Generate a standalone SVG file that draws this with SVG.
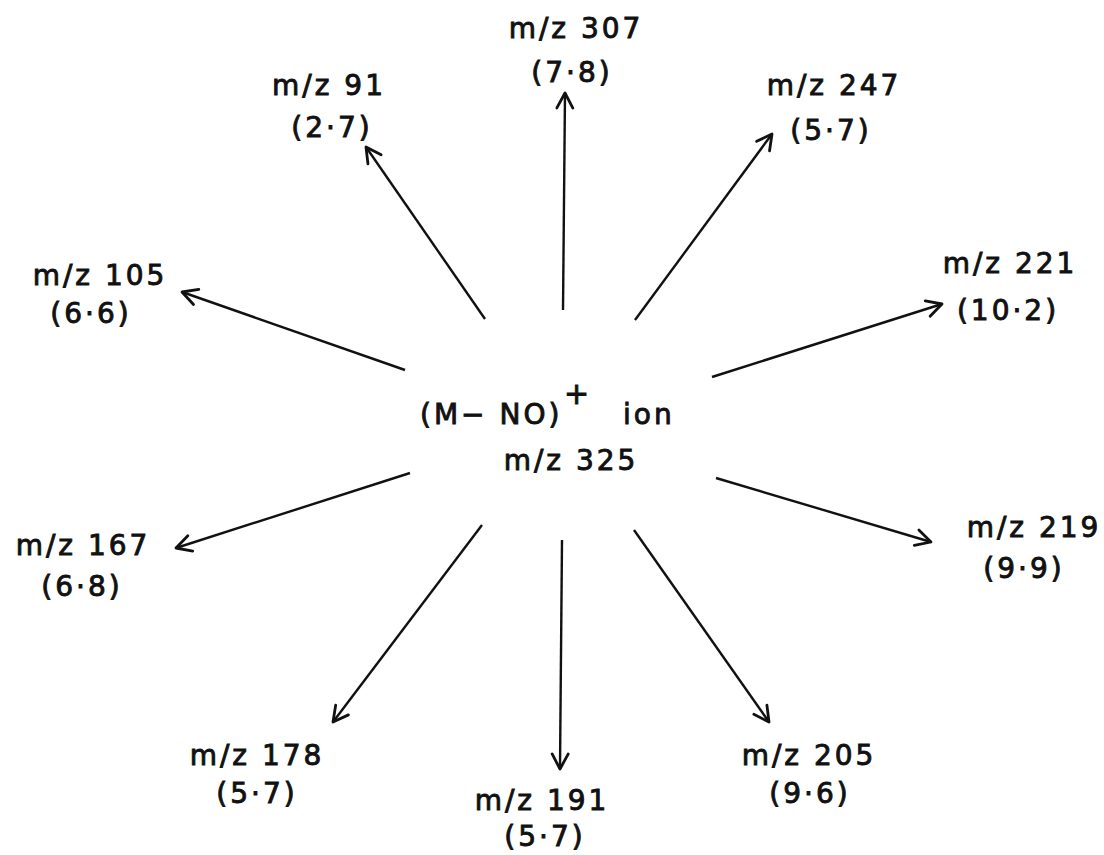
<svg xmlns="http://www.w3.org/2000/svg" width="1104" height="855" viewBox="0 0 1104 855">
<style>
text{font-family:"DejaVu Sans","Liberation Sans",sans-serif;font-size:28px;fill:#111;stroke:#111;stroke-width:0.9;letter-spacing:3px;text-anchor:middle}
.ln{stroke:#111;stroke-width:2.4;fill:none;marker-end:url(#ah)}
</style>
<defs>
<marker id="ah" markerUnits="userSpaceOnUse" markerWidth="24" markerHeight="24" viewBox="-18 -12 24 24" refX="0" refY="0" orient="auto">
<path d="M-15,-8 L0,0 L-15,8" fill="none" stroke="#111" stroke-width="2.8" stroke-linecap="round" stroke-linejoin="round"/>
</marker>
</defs>
<rect width="1104" height="855" fill="#fff"/>
<g id="connectors">
<line class="ln" x1="563" y1="310" x2="565" y2="93"/>
<line class="ln" x1="485" y1="319" x2="366" y2="147"/>
<line class="ln" x1="405" y1="370" x2="182" y2="292"/>
<line class="ln" x1="635" y1="320" x2="772" y2="134"/>
<line class="ln" x1="712" y1="377" x2="942" y2="304"/>
<line class="ln" x1="716" y1="478" x2="931" y2="542"/>
<line class="ln" x1="634" y1="530" x2="769" y2="722"/>
<line class="ln" x1="562" y1="540" x2="560" y2="769"/>
<line class="ln" x1="482" y1="525" x2="333" y2="722"/>
<line class="ln" x1="410" y1="473" x2="176" y2="548"/>
</g>
<g id="center">
<text x="420" y="424" style="text-anchor:start">(M− NO)</text>
<text x="578" y="404" style="text-anchor:middle;font-size:30px">+</text>
<text x="623" y="424" style="text-anchor:start">ion</text>
<text x="571" y="470">m/z 325</text>
</g>
<g id="n307"><text x="576" y="38">m/z 307</text><text x="572" y="82">(7·8)</text></g>
<g id="n91"><text x="329" y="95">m/z 91</text><text x="332" y="137">(2·7)</text></g>
<g id="n247"><text x="834" y="95">m/z 247</text><text x="831" y="140">(5·7)</text></g>
<g id="n105"><text x="100" y="285">m/z 105</text><text x="91" y="323">(6·6)</text></g>
<g id="n221"><text x="1010" y="273">m/z 221</text><text x="1008" y="320">(10·2)</text></g>
<g id="n167"><text x="83" y="555">m/z 167</text><text x="82" y="596">(6·8)</text></g>
<g id="n219"><text x="1034" y="537">m/z 219</text><text x="1024" y="578">(9·9)</text></g>
<g id="n178"><text x="257" y="765">m/z 178</text><text x="257" y="803">(5·7)</text></g>
<g id="n191"><text x="542" y="810">m/z 191</text><text x="545" y="846">(5·7)</text></g>
<g id="n205"><text x="809" y="765">m/z 205</text><text x="810" y="803">(9·6)</text></g>
</svg>
